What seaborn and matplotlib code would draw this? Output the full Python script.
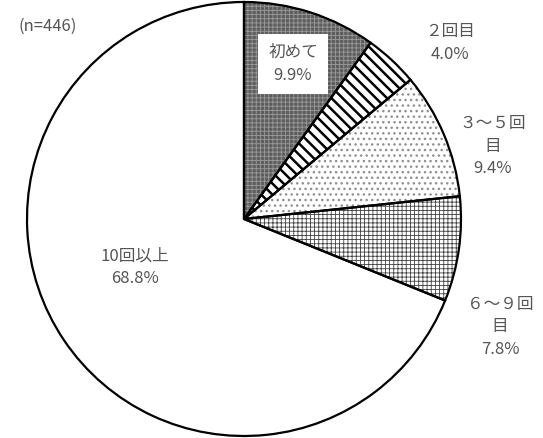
import matplotlib
matplotlib.use('Agg')
import matplotlib.pyplot as plt
import seaborn as sns

# data
labels = ['初めて', '２回目', '３〜５回\n目', '６〜９回\n目', '10回以上']
shares = [9.9, 4.0, 9.4, 7.8, 68.8]
n_total = 446

face_colors = ['#5e5e5e', 'white', 'white', 'white', 'white']
hatch_colors = ['#9a9a9a', 'black', '#909090', '#404040', 'white']
hatches = ['++++', '\\\\\\', '...', '++++', '']
hatch_widths = [0.6, 1.8, 1.0, 0.6, 1.0]

sns.set_style('white')
plt.rcParams['font.family'] = ['Noto Sans CJK JP', 'DejaVu Sans']

fig = plt.figure(figsize=(5.43, 4.38), dpi=100)
ax = fig.add_axes([0, 0, 1, 1])

center = (244, 438 - 219)
radius = 217

fills, _ = ax.pie(shares, startangle=90, counterclock=False,
                  center=center, radius=radius, colors=face_colors,
                  wedgeprops=dict(linewidth=0))
for w, h, hc, hw in zip(fills, hatches, hatch_colors, hatch_widths):
    w.set_hatch(h)
    w.set_edgecolor(hc)
    if hasattr(w, 'set_hatch_linewidth'):
        w.set_hatch_linewidth(hw)

# black outlines on top
ax.pie(shares, startangle=90, counterclock=False, center=center,
       radius=radius, wedgeprops=dict(fill=False, edgecolor='black',
                                      linewidth=1.6))

ax.set_xlim(0, 543)
ax.set_ylim(0, 438)
ax.set_axis_off()

txt = '#555555'
fs = 12


def y(v):
    return 438 - v


# label positions (pixels from top-left)
pos = [(293, 64), (450, 43), (493, 146), (500, 327), (135, 267)]
for i, (lab, val) in enumerate(zip(labels, shares)):
    x0, y0 = pos[i]
    s = f'{lab}\n{val:.1f}%'
    if i == 0:
        ax.text(x0, y(y0), s, ha='center', va='center', color=txt,
                fontsize=fs, linespacing=1.45,
                bbox=dict(facecolor='white', edgecolor='none', pad=7))
    else:
        ax.text(x0, y(y0), s, ha='center', va='center', color=txt,
                fontsize=fs, linespacing=1.45)

ax.text(48, y(26), f'(n={n_total})', ha='center', va='center',
        color=txt, fontsize=12)

fig.savefig('out.png', dpi=100)
